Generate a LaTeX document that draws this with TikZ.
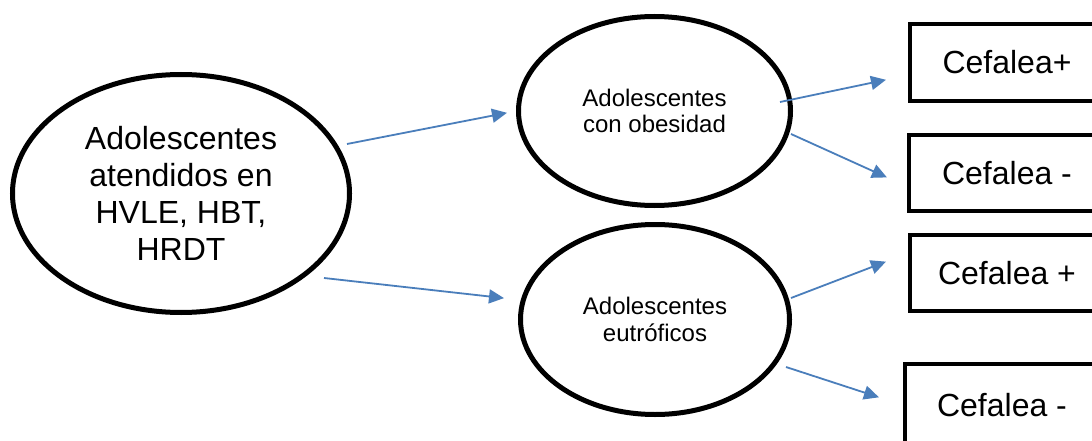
\documentclass[tikz,border=0pt]{standalone}
\usepackage{fontspec}
\setmainfont{Liberation Sans}
\usetikzlibrary{shapes.geometric,arrows.meta}
\definecolor{arrowblue}{HTML}{4A7EBB}
\tikzset{
  oval/.style={draw=black, line width=5pt, ellipse, inner sep=0pt, align=center},
  bigtext/.style={font=\fontsize{32pt}{37pt}\selectfont},
  smalltext/.style={font=\fontsize{24pt}{26.5pt}\selectfont},
  outbox/.style={draw=black, line width=4pt, rectangle, inner sep=0pt,
    font=\fontsize{32pt}{37pt}\selectfont},
  link/.style={draw=arrowblue, line width=1.8pt,
    -{Triangle[length=15pt,width=14pt]}, shorten >=-1pt}
}
\begin{document}
\begin{tikzpicture}[x=1pt,y=-1pt]
\useasboundingbox[fill=white] (0,0) rectangle (1092,441);
% ellipses
\node[oval, bigtext, minimum width=337pt, minimum height=238pt] (root) at (181,193.5)
  {Adolescentes\\atendidos en\\HVLE, HBT,\\HRDT};
\node[oval, smalltext, minimum width=272pt, minimum height=189pt] (obes) at (654.5,111)
  {Adolescentes\\con obesidad};
\node[oval, smalltext, minimum width=269pt, minimum height=190pt] (eutr) at (655,319.5)
  {Adolescentes\\eutróficos};
% boxes
\node[outbox, minimum width=194pt, minimum height=77pt] (b1) at (1007,62.5) {Cefalea+};
\node[outbox, minimum width=196pt, minimum height=76pt] (b2) at (1007,173) {Cefalea -};
\node[outbox, minimum width=194pt, minimum height=76pt] (b3) at (1007,273) {Cefalea +};
\node[outbox, minimum width=194pt, minimum height=83pt] (b4) at (1002,405.5) {Cefalea -};
% connector end points
\coordinate (r1) at (347,144);
\coordinate (o1) at (506,113);
\coordinate (r2) at (324,278);
\coordinate (e1) at (503,298);
\coordinate (o2) at (780,102);
\coordinate (t1) at (885,80);
\coordinate (o3) at (791,134);
\coordinate (t2) at (886,177);
\coordinate (e2) at (791,298);
\coordinate (t3) at (885,262);
\coordinate (e3) at (786,367);
\coordinate (t4) at (878,397);
% connectors
\draw[link] (r1) -- (o1);
\draw[link] (r2) -- (e1);
\draw[link] (o2) -- (t1);
\draw[link] (o3) -- (t2);
\draw[link] (e2) -- (t3);
\draw[link] (e3) -- (t4);
\end{tikzpicture}
\end{document}
